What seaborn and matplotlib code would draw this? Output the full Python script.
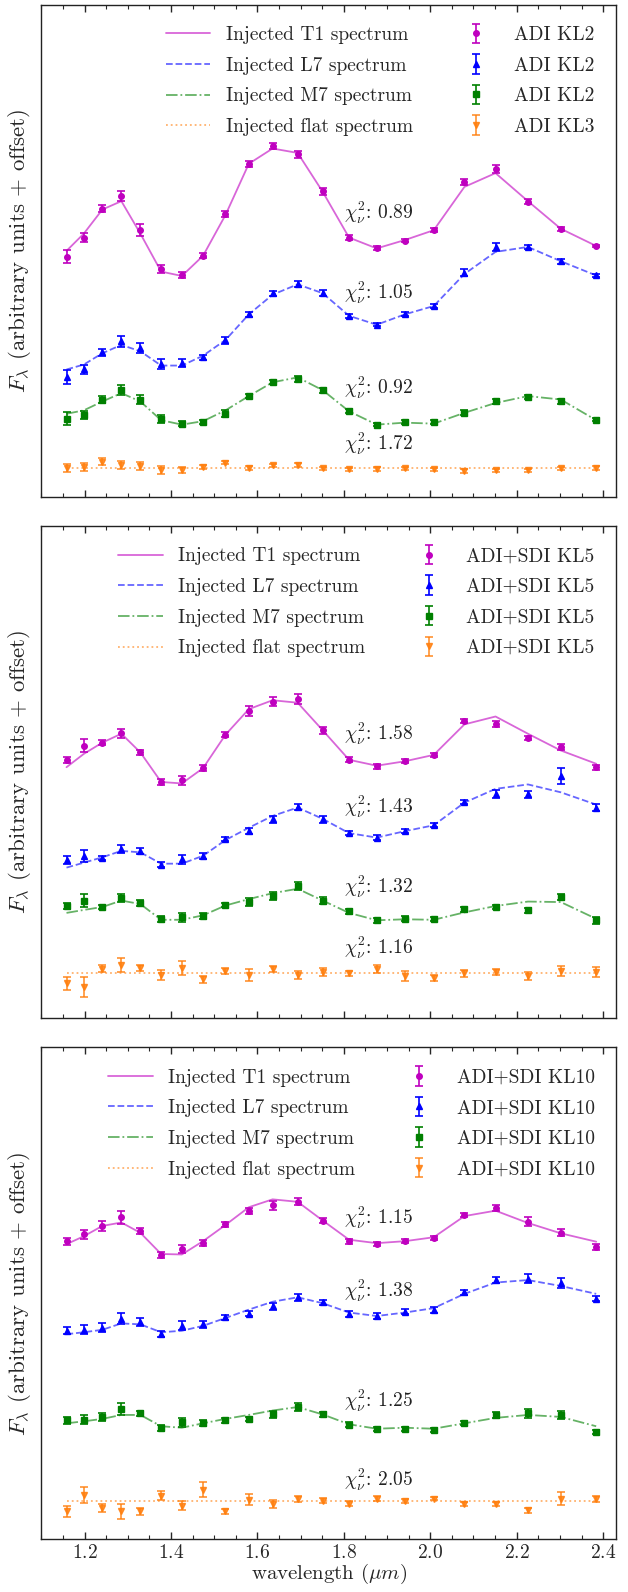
import matplotlib
matplotlib.use("Agg")
import matplotlib.pyplot as plt
from matplotlib.ticker import MultipleLocator
import numpy as np
import pandas as pd
import seaborn as sns

# wavelength channels (micron)
wavelength = [1.158, 1.198, 1.241, 1.285, 1.329, 1.377, 1.425, 1.474, 1.526, 1.580, 1.635,
              1.693, 1.751, 1.812, 1.876, 1.941, 2.008, 2.079, 2.151, 2.226, 2.302, 2.384]

model_names = ["Injected T1 spectrum", "Injected L7 spectrum",
               "Injected M7 spectrum", "Injected flat spectrum"]

# ---- panel 1: ADI ----
p1_labels = ["ADI KL2", "ADI KL2", "ADI KL2", "ADI KL3"]
p1_chi2 = [0.89, 1.05, 0.92, 1.72]
p1_chi2_y = [57.7, 41.4, 22.1, 10.8]
p1_t1_model = [50.0, 53.5, 58.4, 60.1, 53.5, 45.8, 44.9, 49.0, 57.3, 67.7, 70.8, 69.9, 62.0, 52.7, 50.5, 52.2, 54.2, 63.0, 65.8, 60.1, 54.5, 51.0]
p1_t1_obs = [48.8, 52.7, 58.6, 61.1, 54.2, 46.3, 45.1, 49.0, 57.5, 67.7, 71.3, 69.6, 62.1, 52.7, 50.5, 52.1, 54.2, 64.0, 66.7, 60.0, 54.5, 51.0]
p1_t1_err = [1.35, 0.88, 0.68, 1.0, 1.2, 0.8, 0.68, 0.54, 0.68, 0.6, 0.6, 0.68, 0.68, 0.47, 0.4, 0.34, 0.4, 0.54, 0.8, 0.47, 0.4, 0.27]
p1_l7_model = [25.9, 26.9, 29.2, 30.9, 29.6, 26.7, 26.7, 28.7, 31.9, 37.1, 41.1, 43.2, 41.4, 36.8, 35.0, 37.1, 38.8, 45.3, 49.8, 50.8, 47.9, 45.0]
p1_l7_obs = [24.4, 25.9, 29.4, 31.6, 30.2, 27.1, 27.2, 28.4, 31.8, 37.1, 41.4, 43.2, 41.5, 36.8, 35.0, 37.2, 38.8, 45.6, 50.7, 50.8, 47.9, 45.0]
p1_l7_err = [1.35, 1.0, 0.68, 1.15, 1.0, 1.0, 0.8, 0.54, 0.68, 0.47, 0.54, 0.6, 0.6, 0.47, 0.34, 0.34, 0.47, 0.68, 0.8, 0.47, 0.54, 0.34]
p1_m7_model = [16.9, 17.6, 19.4, 21.1, 19.4, 15.6, 14.7, 15.4, 17.6, 20.5, 23.3, 24.3, 21.7, 17.4, 14.7, 15.1, 14.9, 17.1, 19.1, 20.5, 19.8, 15.6]
p1_m7_obs = [15.9, 16.7, 19.8, 21.8, 19.8, 15.9, 14.9, 15.2, 16.9, 20.5, 23.4, 24.0, 21.7, 17.4, 14.7, 15.2, 15.2, 17.1, 19.4, 20.3, 19.4, 15.7]
p1_m7_err = [1.28, 0.81, 0.68, 1.0, 1.0, 0.81, 0.54, 0.47, 0.68, 0.4, 0.4, 0.54, 0.54, 0.4, 0.34, 0.34, 0.4, 0.47, 0.54, 0.4, 0.47, 0.34]
p1_flat_level = 5.8
p1_flat_obs = [5.9, 6.1, 7.2, 6.5, 6.3, 5.4, 5.5, 6.1, 7.0, 5.9, 6.4, 6.5, 5.8, 5.6, 5.7, 5.8, 5.6, 5.3, 5.4, 5.4, 5.8, 5.9]
p1_flat_err = [0.8, 0.8, 0.68, 0.88, 0.88, 0.8, 0.54, 0.4, 0.4, 0.34, 0.4, 0.4, 0.34, 0.34, 0.34, 0.34, 0.34, 0.34, 0.34, 0.34, 0.34, 0.34]

# ---- panel 2: ADI+SDI KL5 ----
p2_labels = ["ADI+SDI KL5"] * 4
p2_chi2 = [1.58, 1.43, 1.32, 1.16]
p2_chi2_y = [57.8, 42.9, 26.7, 14.3]
p2_t1_model = [51.0, 53.7, 56.0, 57.8, 54.0, 48.0, 47.7, 50.8, 57.6, 62.8, 64.6, 64.1, 58.5, 52.5, 51.3, 52.2, 53.5, 59.7, 61.3, 57.8, 54.4, 51.7]
p2_t1_obs = [52.5, 55.4, 56.0, 57.9, 54.0, 48.0, 48.3, 50.8, 57.6, 62.4, 64.3, 64.8, 58.5, 52.5, 51.2, 52.2, 53.5, 60.3, 59.8, 56.9, 55.1, 51.0]
p2_t1_err = [0.67, 1.35, 0.47, 0.94, 0.54, 0.54, 0.94, 0.61, 0.47, 0.94, 0.94, 1.01, 0.67, 0.54, 0.47, 0.4, 0.4, 0.4, 0.67, 0.4, 0.67, 0.54]
p2_l7_model = [30.6, 31.6, 32.7, 34.0, 33.7, 31.4, 31.4, 33.0, 36.2, 38.7, 41.1, 42.8, 40.5, 37.6, 36.7, 38.0, 39.2, 43.8, 46.6, 47.5, 45.9, 43.4]
p2_l7_obs = [32.2, 33.0, 32.6, 34.3, 34.0, 31.2, 32.3, 33.0, 36.4, 38.0, 40.4, 42.9, 40.4, 37.6, 36.7, 38.0, 39.2, 43.9, 45.5, 45.5, 49.2, 42.8]
p2_l7_err = [0.81, 1.21, 0.4, 0.81, 0.54, 0.54, 0.94, 0.61, 0.4, 0.67, 0.67, 0.67, 0.67, 0.47, 0.47, 0.4, 0.4, 0.47, 0.81, 0.67, 1.68, 0.67]
p2_m7_model = [21.4, 22.0, 22.6, 23.9, 23.2, 20.0, 20.0, 20.9, 22.9, 24.2, 25.4, 26.3, 23.9, 21.4, 19.9, 20.1, 20.0, 21.5, 22.8, 23.7, 23.6, 20.2]
p2_m7_obs = [22.8, 23.9, 22.6, 24.4, 23.4, 20.2, 20.5, 20.7, 23.0, 23.6, 24.9, 26.9, 23.9, 21.7, 19.9, 20.2, 20.1, 22.1, 22.6, 21.9, 24.6, 19.9]
p2_m7_err = [0.67, 1.35, 0.47, 0.88, 0.61, 0.61, 0.94, 0.61, 0.47, 0.81, 0.81, 0.81, 0.67, 0.54, 0.54, 0.47, 0.4, 0.47, 0.47, 0.54, 0.67, 0.67]
p2_flat_level = 9.1
p2_flat_obs = [7.1, 6.3, 10.1, 10.8, 10.2, 8.8, 10.2, 7.9, 9.6, 8.8, 10.0, 8.8, 9.3, 9.1, 10.0, 8.6, 8.2, 9.1, 9.4, 8.6, 9.6, 9.4]
p2_flat_err = [1.35, 2.0, 0.81, 1.35, 0.54, 0.94, 1.35, 0.67, 0.67, 1.21, 0.54, 0.81, 0.81, 0.54, 0.81, 0.94, 0.67, 0.67, 0.67, 0.81, 1.0, 1.0]

# ---- panel 3: ADI+SDI KL10 ----
p3_labels = ["ADI+SDI KL10"] * 4
p3_chi2 = [1.15, 1.38, 1.25, 2.05]
p3_chi2_y = [65.3, 50.5, 28.1, 12.1]
p3_t1_model = [60.0, 61.6, 63.7, 64.4, 62.3, 58.0, 57.9, 60.6, 63.9, 67.5, 69.1, 68.6, 64.8, 60.9, 60.2, 60.6, 61.4, 65.7, 66.8, 64.3, 62.2, 60.5]
p3_t1_obs = [60.6, 62.0, 63.7, 65.5, 62.7, 57.8, 59.0, 60.3, 64.0, 66.8, 67.9, 68.6, 64.8, 60.6, 60.0, 60.6, 61.3, 65.9, 67.4, 64.6, 62.3, 59.5]
p3_t1_err = [0.74, 0.96, 0.96, 1.33, 0.59, 0.59, 0.89, 0.59, 0.52, 0.59, 0.89, 0.74, 0.52, 0.52, 0.44, 0.44, 0.44, 0.44, 0.59, 0.89, 0.74, 0.59]
p3_l7_model = [41.7, 42.1, 42.6, 43.9, 43.7, 42.1, 42.4, 43.4, 45.0, 46.7, 48.3, 49.2, 48.0, 46.1, 45.4, 46.1, 47.0, 49.9, 52.2, 52.7, 51.5, 49.9]
p3_l7_obs = [42.4, 42.6, 43.0, 44.8, 44.2, 41.7, 43.4, 43.7, 45.1, 45.9, 47.4, 49.2, 48.2, 45.8, 45.4, 46.3, 46.7, 50.2, 52.7, 53.0, 52.1, 48.9]
p3_l7_err = [0.74, 0.89, 0.89, 1.11, 0.74, 0.59, 0.89, 0.74, 0.52, 0.59, 0.74, 0.74, 0.52, 0.52, 0.52, 0.44, 0.59, 0.44, 0.59, 0.89, 0.96, 0.52]
p3_m7_model = [23.6, 24.0, 24.5, 25.3, 25.3, 23.0, 22.7, 23.6, 24.5, 25.3, 26.2, 26.9, 25.4, 23.4, 22.5, 22.7, 22.5, 23.6, 24.7, 25.3, 24.9, 23.0]
p3_m7_obs = [24.2, 24.3, 24.9, 26.5, 25.6, 22.7, 23.8, 23.6, 24.2, 24.5, 25.4, 26.9, 25.4, 23.3, 22.5, 22.5, 22.2, 23.6, 25.3, 25.6, 25.3, 21.9]
p3_m7_err = [0.74, 0.89, 0.89, 1.26, 0.59, 0.59, 0.89, 0.59, 0.44, 0.44, 0.74, 0.74, 0.52, 0.52, 0.44, 0.44, 0.44, 0.44, 0.59, 0.89, 0.89, 0.44]
p3_flat_level = 7.8
p3_flat_obs = [5.7, 9.0, 6.4, 5.7, 5.7, 8.9, 6.9, 10.1, 5.7, 8.1, 7.2, 8.3, 7.9, 7.3, 8.3, 7.8, 8.3, 7.2, 7.2, 5.9, 8.3, 8.3]
p3_flat_err = [1.11, 1.62, 0.74, 1.48, 0.74, 0.89, 0.89, 1.48, 0.59, 1.11, 0.74, 0.59, 0.59, 0.44, 0.44, 0.37, 0.37, 0.37, 0.37, 0.44, 1.33, 0.59]

point_colors = ["#bf00bf", "#0000ff", "#008000", "#ff7f0e"]
markers = ["o", "^", "s", "v"]
linestyles = ["-", "--", "-.", ":"]


def draw_panel(ax, models, obs, errs, labels, chi2, chi2_y):
    line_handles = []
    err_handles = []
    for i in range(4):
        df = pd.DataFrame({"wavelength": wavelength, "flux": models[i]})
        sns.lineplot(data=df, x="wavelength", y="flux", ax=ax, color=point_colors[i],
                     linestyle=linestyles[i], alpha=0.6, lw=1.3, sort=False)
        line_handles.append(ax.lines[-1])
    for i in range(4):
        h = ax.errorbar(wavelength, obs[i], yerr=errs[i], fmt=markers[i],
                        color=point_colors[i], ms=4, capsize=3, elinewidth=1.2,
                        capthick=1.2, alpha=0.85 if i == 3 else 1.0)
        err_handles.append(h)
    for c, y in zip(chi2, chi2_y):
        ax.text(1.8, y, r"$\chi^2_\nu$: " + f"{c:.2f}", fontsize=14,
                ha="left", va="center", color="#222222")
    ax.legend(line_handles + err_handles, model_names + labels, ncol=2,
              loc="upper right", frameon=False, fontsize=14, handlelength=2.3,
              handletextpad=0.8, columnspacing=2.1, labelspacing=0.65,
              borderaxespad=0.7)
    ax.set_xlim(1.1, 2.43)
    ax.set_ylim(0, 100)
    ax.set_yticks([])
    ax.set_xlabel("")
    ax.set_ylabel(r"$F_\lambda$ (arbitrary units + offset)", fontsize=16.5, labelpad=6)
    ax.xaxis.set_major_locator(MultipleLocator(0.2))
    ax.xaxis.set_minor_locator(MultipleLocator(0.05))
    ax.tick_params(axis="x", which="both", direction="in", top=True, labelsize=14)
    ax.tick_params(axis="x", which="major", length=5, width=1)
    ax.tick_params(axis="x", which="minor", length=3, width=0.8)
    for s in ax.spines.values():
        s.set_linewidth(1.0)
        s.set_color("#222222")


sns.set_theme(style="ticks", color_codes=False)
plt.rcParams["font.family"] = ["serif"]
plt.rcParams["font.serif"] = ["cmr10", "DejaVu Serif"]
plt.rcParams["mathtext.fontset"] = "cm"
plt.rcParams["axes.unicode_minus"] = False
plt.rcParams["axes.formatter.use_mathtext"] = True

fig, axes = plt.subplots(3, 1, figsize=(6.28, 15.92), dpi=100, sharex=True)
fig.subplots_adjust(left=0.066, right=0.981, bottom=0.033, top=0.997, hspace=0.059)

draw_panel(axes[0],
           [p1_t1_model, p1_l7_model, p1_m7_model, [p1_flat_level] * len(wavelength)],
           [p1_t1_obs, p1_l7_obs, p1_m7_obs, p1_flat_obs],
           [p1_t1_err, p1_l7_err, p1_m7_err, p1_flat_err],
           p1_labels, p1_chi2, p1_chi2_y)
draw_panel(axes[1],
           [p2_t1_model, p2_l7_model, p2_m7_model, [p2_flat_level] * len(wavelength)],
           [p2_t1_obs, p2_l7_obs, p2_m7_obs, p2_flat_obs],
           [p2_t1_err, p2_l7_err, p2_m7_err, p2_flat_err],
           p2_labels, p2_chi2, p2_chi2_y)
draw_panel(axes[2],
           [p3_t1_model, p3_l7_model, p3_m7_model, [p3_flat_level] * len(wavelength)],
           [p3_t1_obs, p3_l7_obs, p3_m7_obs, p3_flat_obs],
           [p3_t1_err, p3_l7_err, p3_m7_err, p3_flat_err],
           p3_labels, p3_chi2, p3_chi2_y)

axes[2].set_xlabel(r"wavelength ($\mu m$)", fontsize=15, labelpad=0)

fig.savefig("out.png", dpi=100)
